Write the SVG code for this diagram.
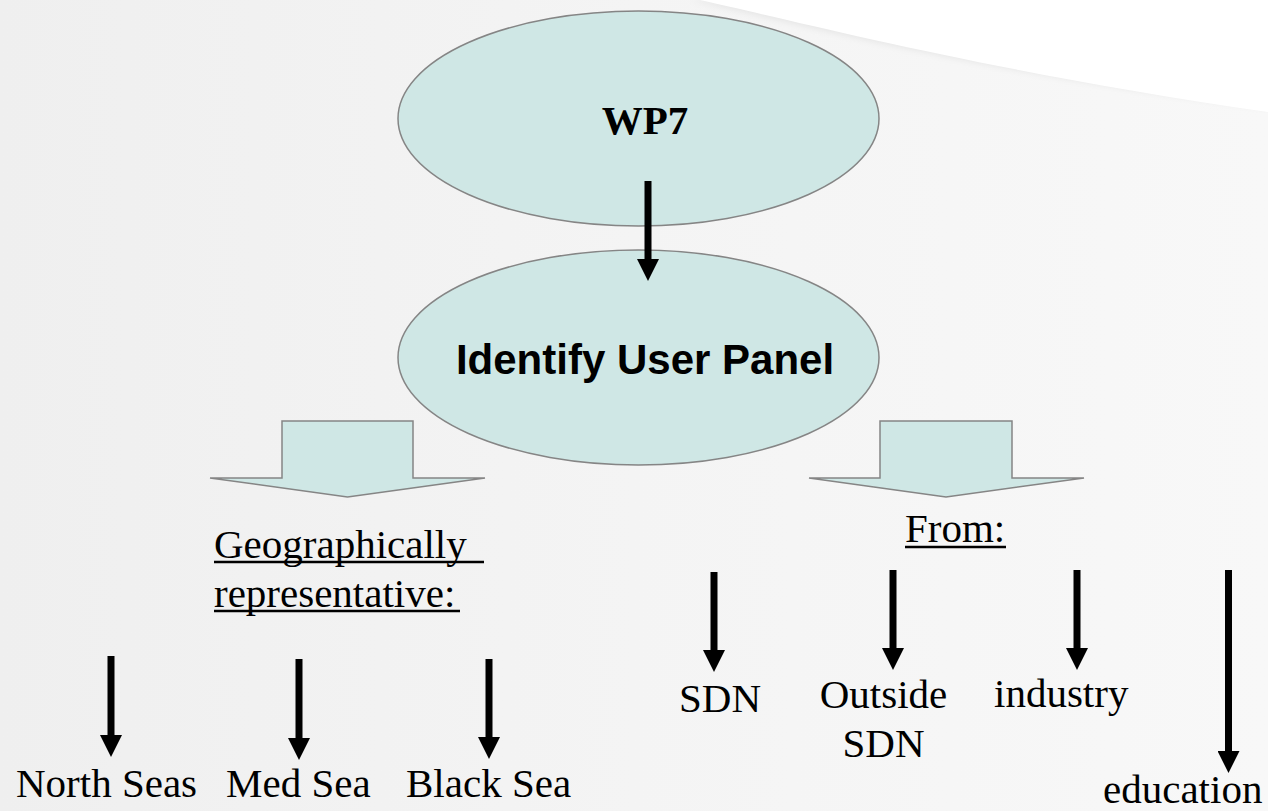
<svg xmlns="http://www.w3.org/2000/svg" width="1268" height="811" viewBox="0 0 1268 811">
  <defs>
    <linearGradient id="bg" x1="0" y1="0" x2="1" y2="0">
      <stop offset="0" stop-color="#efefef"/>
      <stop offset="0.5" stop-color="#f4f4f4"/>
      <stop offset="1" stop-color="#f8f8f8"/>
    </linearGradient>
    <filter id="soft" x="-5%" y="-50%" width="110%" height="200%">
      <feGaussianBlur stdDeviation="3"/>
    </filter>
    <marker id="head" markerUnits="userSpaceOnUse" viewBox="0 0 22 22" markerWidth="22" markerHeight="22" refX="0" refY="11" orient="auto">
      <path d="M0,0 L22,11 L0,22 z" fill="#000"/>
    </marker>
    <style>
      .node { fill: #cfe7e5; stroke: #858585; stroke-width: 1.5; }
      .conn { stroke: #000; stroke-width: 7; fill: none; marker-end: url(#head); }
      .serif { font-family: "Liberation Serif", "Times New Roman", serif; font-size: 41px; fill: #000; }
      .sans { font-family: "Liberation Sans", Arial, sans-serif; font-weight: bold; font-size: 42px; fill: #000; }
      .ul { stroke: #000; stroke-width: 2.5; }
    </style>
  </defs>

  <!-- background -->
  <rect x="0" y="0" width="1268" height="811" fill="url(#bg)"/>
  <path d="M690,0 C790,22 980,72 1268,108 L1268,0 Z" fill="#e6e6e6" filter="url(#soft)"/>
  <path d="M700,0 C800,22 990,72 1268,112 L1268,0 Z" fill="#ffffff"/>

  <!-- nodes -->
  <g id="node-wp7">
    <ellipse class="node" cx="638.5" cy="118.5" rx="240.5" ry="107.5"/>
    <text class="serif" x="645" y="134" text-anchor="middle" font-weight="bold">WP7</text>
  </g>
  <g id="node-identify">
    <ellipse class="node" cx="638.5" cy="357.5" rx="240.5" ry="107.5"/>
    <text class="sans" x="645" y="374" text-anchor="middle">Identify User Panel</text>
  </g>
  <g id="node-block-left">
    <path class="node" d="M282,421 L413,421 L413,478 L485,478 L347.5,497 L210,478 L282,478 Z"/>
  </g>
  <g id="node-block-right">
    <path class="node" d="M880,421 L1012,421 L1012,478 L1084,478 L946,497 L809,478 L880,478 Z"/>
  </g>
  <g id="node-geo">
    <text class="serif" x="214" y="558">Geographically</text>
    <text class="serif" x="214" y="607">representative:</text>
    <line class="ul" x1="214" y1="562" x2="484" y2="562"/>
    <line class="ul" x1="214" y1="611" x2="460" y2="611"/>
  </g>
  <g id="node-from">
    <text class="serif" x="905" y="542">From:</text>
    <line class="ul" x1="905" y1="547" x2="1006" y2="547"/>
  </g>
  <g id="node-north">
    <text class="serif" x="16" y="797">North Seas</text>
  </g>
  <g id="node-med">
    <text class="serif" x="226" y="797">Med Sea</text>
  </g>
  <g id="node-black">
    <text class="serif" x="406" y="797">Black Sea</text>
  </g>
  <g id="node-sdn">
    <text class="serif" x="679" y="712">SDN</text>
  </g>
  <g id="node-outside">
    <text class="serif" x="883.5" y="708" text-anchor="middle">Outside</text>
    <text class="serif" x="883.5" y="757" text-anchor="middle">SDN</text>
  </g>
  <g id="node-industry">
    <text class="serif" x="994" y="707">industry</text>
  </g>
  <g id="node-education">
    <text class="serif" x="1103" y="803">education</text>
  </g>

  <!-- connectors -->
  <g id="connectors">
    <line class="conn" x1="648" y1="181" x2="648" y2="259"/>
    <line class="conn" x1="111" y1="656" x2="111" y2="735"/>
    <line class="conn" x1="299" y1="659" x2="299" y2="738"/>
    <line class="conn" x1="489" y1="659" x2="489" y2="737"/>
    <line class="conn" x1="714" y1="572" x2="714" y2="650"/>
    <line class="conn" x1="893" y1="570" x2="893" y2="648"/>
    <line class="conn" x1="1077" y1="570" x2="1077" y2="648"/>
    <line class="conn" x1="1228.5" y1="570" x2="1228.5" y2="751"/>
  </g>
</svg>
